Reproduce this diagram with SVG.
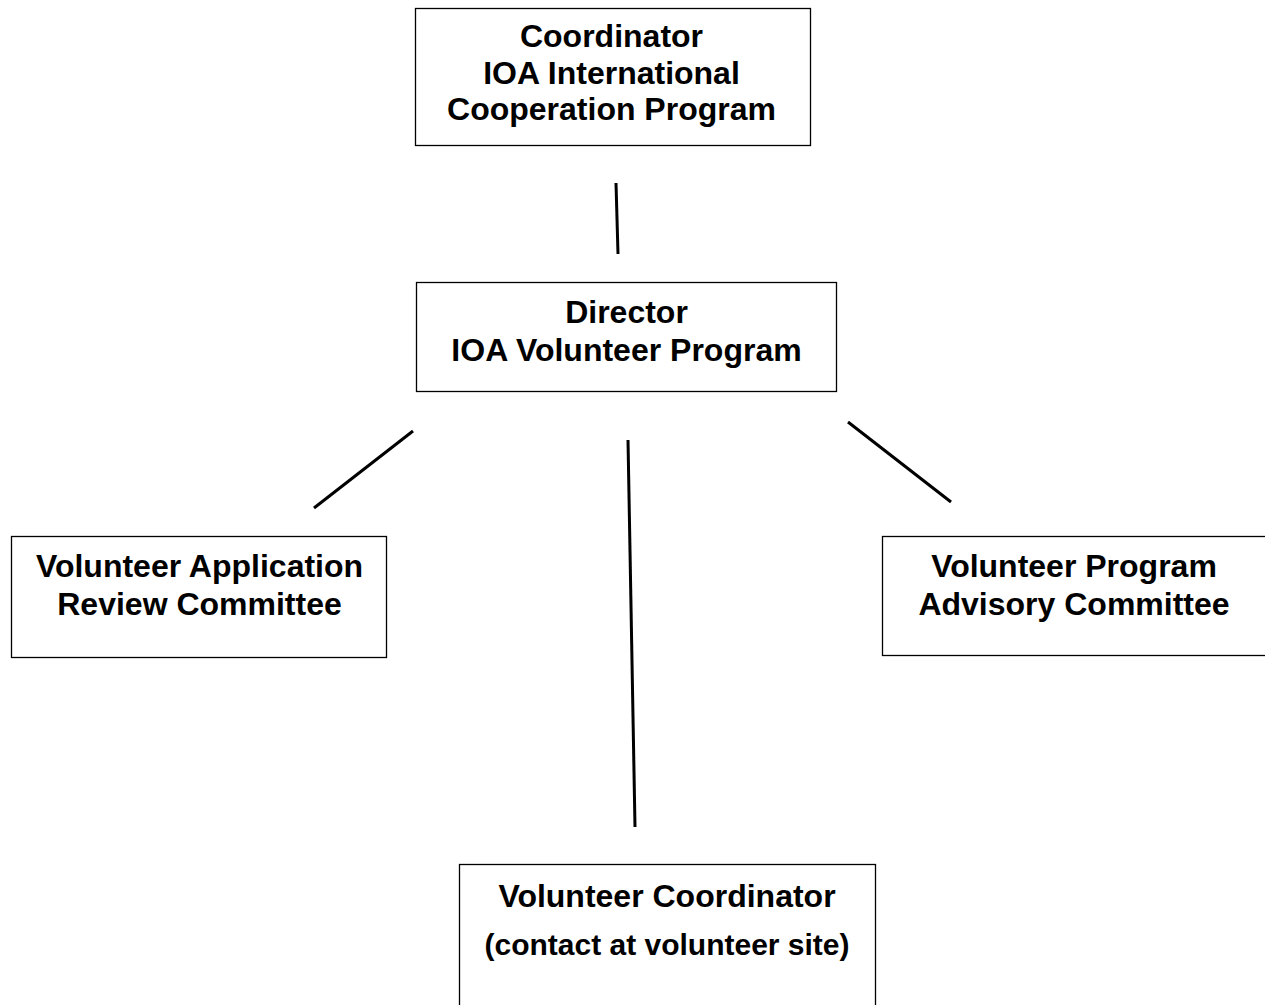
<svg xmlns="http://www.w3.org/2000/svg" width="1265" height="1005" viewBox="0 0 1265 1005">
<style>
.box{fill:#fff;stroke:#000;stroke-width:1.3}
.t{font-family:"Liberation Sans",Arial,sans-serif;font-weight:bold;font-size:32px;text-anchor:middle;fill:#000}
.s{font-size:30px}
.c line{stroke:#000;stroke-width:3}
</style>
<rect width="1265" height="1005" fill="#fff"/>
<g class="c" id="connectors">
<line x1="616" y1="183" x2="618" y2="254"/>
<line x1="413" y1="431" x2="314" y2="508"/>
<line x1="628" y1="440" x2="635" y2="827"/>
<line x1="848" y1="422" x2="951" y2="502"/>
</g>
<g id="coordinator">
<rect class="box" x="415.5" y="8.5" width="395" height="137"/>
<text class="t" x="611.5" y="47">Coordinator</text>
<text class="t" x="611.5" y="83.5">IOA International</text>
<text class="t" x="611.5" y="120">Cooperation Program</text>
</g>
<g id="director">
<rect class="box" x="416.5" y="282.5" width="420" height="109"/>
<text class="t" x="626.5" y="323">Director</text>
<text class="t" x="626.5" y="361">IOA Volunteer Program</text>
</g>
<g id="review">
<rect class="box" x="11.5" y="536.5" width="375" height="121"/>
<text class="t" x="199.5" y="577">Volunteer Application</text>
<text class="t" x="199.5" y="615">Review Committee</text>
</g>
<g id="advisory">
<rect class="box" x="882.5" y="536.5" width="390" height="119"/>
<text class="t" x="1074" y="577">Volunteer Program</text>
<text class="t" x="1074" y="615">Advisory Committee</text>
</g>
<g id="volunteer-coordinator">
<rect class="box" x="459.5" y="864.5" width="416" height="160"/>
<text class="t" x="667" y="907">Volunteer Coordinator</text>
<text class="t s" x="667" y="955">(contact at volunteer site)</text>
</g>
</svg>
